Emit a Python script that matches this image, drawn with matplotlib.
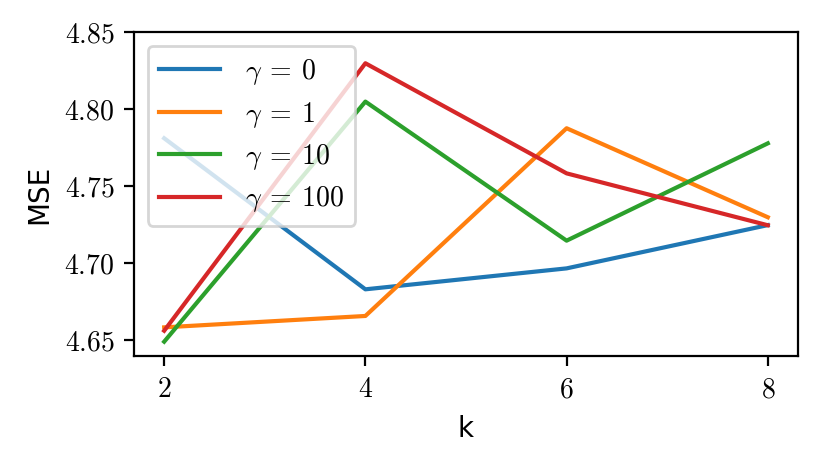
import matplotlib
matplotlib.use("Agg")
import matplotlib.pyplot as plt
from matplotlib.ticker import FuncFormatter

plt.rcParams['mathtext.fontset'] = 'cm'
plt.rcParams['font.size'] = 10

k = [2, 4, 6, 8]
labels = [r'$\gamma\:=\:0$', r'$\gamma\:=\:1$', r'$\gamma\:=\:10$', r'$\gamma\:=\:100$']
mse_g0 = [4.781, 4.6829, 4.6965, 4.7246]
mse_g1 = [4.6582, 4.6656, 4.7875, 4.7297]
mse_g10 = [4.6489, 4.8048, 4.7145, 4.7777]
mse_g100 = [4.6560, 4.8297, 4.7582, 4.7245]
xticks = [2, 4, 6, 8]
yticks = [4.65, 4.70, 4.75, 4.80, 4.85]

fig = plt.figure(figsize=(831/200, 465/200), dpi=200)
ax = fig.add_axes([134/831, 1-356/465, (798-134)/831, (356-32)/465])
for series, lab in zip([mse_g0, mse_g1, mse_g10, mse_g100], labels):
    ax.plot(k, series, label=lab, lw=1.5)
ax.set_ylim(4.6396, 4.85)
ax.set_xticks(xticks)
ax.set_yticks(yticks)
ax.xaxis.set_major_formatter(FuncFormatter(lambda v, p: f'${v:.0f}$'))
ax.yaxis.set_major_formatter(FuncFormatter(lambda v, p: f'${v:.2f}$'))
ax.set_xlabel('k')
ax.set_ylabel('MSE')
ax.legend(loc='upper left', handlelength=2.2, handletextpad=0.9, labelspacing=0.45)
fig.savefig('out.png', dpi=200)
